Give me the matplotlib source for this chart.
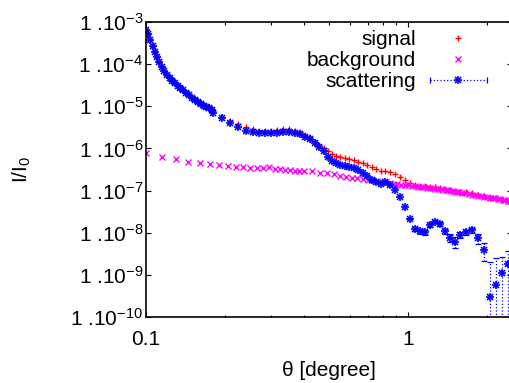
import numpy as np
import matplotlib
matplotlib.use("Agg")
import matplotlib.pyplot as plt
from matplotlib.ticker import FixedLocator, FixedFormatter, LogLocator, NullFormatter

plt.rcParams["font.family"] = ["Liberation Sans", "DejaVu Sans"]
plt.rcParams["mathtext.fontset"] = "custom"
plt.rcParams["mathtext.rm"] = "Liberation Sans"
plt.rcParams["mathtext.it"] = "Liberation Sans"
plt.rcParams["mathtext.default"] = "regular"

# signal and scattering share the same angles (degree)
theta = [
    0.1000, 0.1020, 0.1040, 0.1060, 0.1080, 0.1100, 0.1125, 0.1150, 0.1175,
    0.1200, 0.1230, 0.1260, 0.1290, 0.1320, 0.1350, 0.1380, 0.1420, 0.1460,
    0.1500, 0.1540, 0.1580, 0.1620, 0.1660, 0.1700, 0.1740, 0.1780, 0.1805,
    0.1945, 0.2092, 0.2250, 0.2408, 0.2554, 0.2706, 0.2845, 0.2999, 0.3162,
    0.3334, 0.3514, 0.3689, 0.3871, 0.4045, 0.4227, 0.4396, 0.4573, 0.4758,
    0.4950, 0.5128, 0.5311, 0.5501, 0.5723, 0.5954, 0.6194, 0.6443, 0.6705,
    0.6976, 0.7257, 0.7550, 0.7853, 0.8170, 0.8537, 0.8920, 0.9322, 0.9739,
    1.0176, 1.0634, 1.1111, 1.1610, 1.2134, 1.2679, 1.3253, 1.3845, 1.4468,
    1.5118, 1.5797, 1.6651, 1.7555, 1.8505, 1.9507, 2.0559, 2.1677, 2.2850,
    2.4083,
]

signal = [
    6.47e-4, 5.08e-4, 3.73e-4, 2.65e-4, 1.96e-4, 1.51e-4, 1.145e-4, 8.58e-5, 6.76e-5,
    5.67e-5, 4.74e-5, 4.09e-5, 3.54e-5, 3.08e-5, 2.74e-5, 2.46e-5, 2.14e-5, 1.87e-5,
    1.66e-5, 1.49e-5, 1.34e-5, 1.20e-5, 1.09e-5, 1.03e-5, 9.63e-6, 8.45e-6, 7.55e-6,
    5.66e-6, 4.47e-6, 3.74e-6, 3.28e-6, 2.84e-6, 2.63e-6, 2.63e-6, 2.63e-6, 2.74e-6,
    2.84e-6, 2.84e-6, 2.66e-6, 2.45e-6, 2.14e-6, 1.82e-6, 1.46e-6, 1.24e-6, 1.02e-6,
    8.69e-7, 7.57e-7, 6.61e-7, 6.36e-7, 6.02e-7, 5.67e-7, 5.25e-7, 4.89e-7, 4.51e-7,
    4.04e-7, 3.72e-7, 3.34e-7, 2.96e-7, 2.96e-7, 2.76e-7, 2.50e-7, 2.10e-7, 1.75e-7,
    1.53e-7, 1.39e-7, 1.32e-7, 1.28e-7, 1.25e-7, 1.22e-7, 1.15e-7, 1.09e-7, 1.03e-7,
    9.76e-8, 9.50e-8, 9.09e-8, 8.90e-8, 8.06e-8, 7.43e-8, 6.84e-8, 6.55e-8, 6.13e-8,
    5.81e-8,
]

scattering = [
    6.46e-4, 5.07e-4, 3.72e-4, 2.64e-4, 1.95e-4, 1.50e-4, 1.14e-4, 8.53e-5, 6.71e-5,
    5.62e-5, 4.69e-5, 4.04e-5, 3.49e-5, 3.03e-5, 2.69e-5, 2.41e-5, 2.09e-5, 1.82e-5,
    1.61e-5, 1.44e-5, 1.29e-5, 1.15e-5, 1.04e-5, 9.80e-6, 9.17e-6, 7.98e-6, 7.05e-6,
    5.19e-6, 3.95e-6, 3.28e-6, 2.63e-6, 2.41e-6, 2.28e-6, 2.28e-6, 2.28e-6, 2.36e-6,
    2.45e-6, 2.45e-6, 2.28e-6, 2.16e-6, 1.90e-6, 1.65e-6, 1.32e-6, 1.11e-6, 8.93e-7,
    6.43e-7, 5.17e-7, 4.51e-7, 4.04e-7, 3.77e-7, 3.57e-7, 3.38e-7, 3.08e-7, 2.61e-7,
    2.16e-7, 1.83e-7, 1.60e-7, 1.47e-7, 1.57e-7, 1.39e-7, 1.03e-7, 7.04e-8, 4.07e-8,
    2.17e-8, 1.22e-8, 1.10e-8, 1.02e-8, 1.52e-8, 1.82e-8, 1.61e-8, 1.10e-8, 7.69e-9,
    6.01e-9, 8.82e-9, 1.04e-8, 1.16e-8, 7.48e-9, 3.89e-9, 2.98e-10, 5.74e-10, 1.12e-9,
    1.78e-9,
]

scattering_err = [0.0] * 63 + [
    1.0e-9, 1.5e-9, 1.5e-9, 1.5e-9, 1.5e-9, 1.5e-9, 1.5e-9, 1.5e-9, 1.5e-9,
    1.7e-9, 1.5e-9, 1.5e-9, 1.5e-9, 2.0e-9, 1.7e-9, 1.7e-9, 1.9e-9, 1.5e-9,
    2.0e-9,
]

bg_theta = [
    0.100, 0.115, 0.130, 0.145, 0.160, 0.175, 0.190, 0.205, 0.220, 0.235, 0.250,
    0.265, 0.280, 0.295, 0.310, 0.325, 0.340, 0.355, 0.370, 0.385, 0.400,
    0.43, 0.46, 0.49, 0.52, 0.55, 0.58, 0.61, 0.64, 0.67, 0.70, 0.73, 0.76,
    0.79, 0.82, 0.85, 0.88, 0.91, 0.94, 0.97, 1.00, 1.03, 1.06, 1.09, 1.12,
    1.15, 1.18, 1.21, 1.24, 1.27, 1.30, 1.33, 1.36, 1.39, 1.42, 1.45, 1.48,
    1.51, 1.54, 1.57, 1.60, 1.65, 1.70, 1.75, 1.80, 1.85, 1.90, 1.95, 2.00,
    2.05, 2.10, 2.15, 2.20, 2.25, 2.30, 2.35, 2.40, 2.45,
]

background = [
    7.66e-7, 6.39e-7, 5.52e-7, 4.87e-7, 4.58e-7, 4.27e-7, 4.04e-7, 3.83e-7, 3.72e-7,
    3.68e-7, 3.53e-7, 3.53e-7, 3.53e-7, 3.58e-7, 3.28e-7, 3.21e-7, 3.14e-7, 3.08e-7,
    2.99e-7, 2.94e-7, 2.91e-7,
    2.91e-7, 2.65e-7, 2.57e-7, 2.43e-7, 2.24e-7, 2.07e-7, 2.01e-7, 1.95e-7, 1.88e-7,
    1.83e-7, 1.78e-7, 1.70e-7, 1.63e-7, 1.57e-7, 1.50e-7, 1.46e-7, 1.42e-7, 1.39e-7,
    1.355e-7, 1.33e-7, 1.31e-7, 1.27e-7, 1.235e-7, 1.215e-7, 1.19e-7, 1.17e-7,
    1.15e-7, 1.125e-7, 1.107e-7, 1.089e-7, 1.071e-7, 1.048e-7, 1.031e-7, 1.009e-7,
    9.92e-8, 9.71e-8, 9.50e-8, 9.24e-8, 9.09e-8, 8.90e-8, 8.61e-8, 8.29e-8, 7.98e-8,
    7.76e-8, 7.43e-8, 7.27e-8, 7.11e-8, 6.92e-8, 6.77e-8, 6.66e-8, 6.52e-8, 6.38e-8,
    6.20e-8, 6.07e-8, 5.94e-8, 5.81e-8, 5.65e-8,
]

x_ticks = [0.1, 1.0]
x_labels = ["0.1", "1"]
y_ticks = [1e-10, 1e-9, 1e-8, 1e-7, 1e-6, 1e-5, 1e-4, 1e-3]
y_labels = ["1 .10$^{-10}$", "1 .10$^{-9}$", "1 .10$^{-8}$", "1 .10$^{-7}$",
            "1 .10$^{-6}$", "1 .10$^{-5}$", "1 .10$^{-4}$", "1 .10$^{-3}$"]

theta = np.array(theta)
scattering = np.array(scattering)
scattering_err = np.array(scattering_err)

fig = plt.figure(figsize=(5.10, 3.83), dpi=100)
ax = fig.add_axes([0.2863, 0.1723, 0.7167, 0.7702])
ax.set_xscale("log")
ax.set_yscale("log")


def star(x, y, **kw):
    # gnuplot point type 3: a "+" laid over an "x"
    ax.plot(x, y, linestyle="none", marker="+", color="#0000ff",
            markersize=6, markeredgewidth=1.2, **kw)
    ax.plot(x, y, linestyle="none", marker="x", color="#0000ff",
            markersize=4.5, markeredgewidth=1.2, **kw)


ax.plot(theta, signal, linestyle="none", marker="+", color="#ff0000",
        markersize=5, markeredgewidth=1.0)
ax.plot(bg_theta, background, linestyle="none", marker="x", color="#ff00ff",
        markersize=4, markeredgewidth=1.0)
has_err = scattering_err > 0
eb = ax.errorbar(theta[has_err], scattering[has_err], yerr=scattering_err[has_err],
                 fmt="none", ecolor="#0000ff", elinewidth=0.9, capsize=2.0,
                 capthick=0.9)
eb[2][0].set_linestyle(":")
star(theta, scattering)

ax.set_xlim(0.1, 2.48)
ax.set_ylim(1e-10, 1e-3)

ax.xaxis.set_major_locator(FixedLocator(x_ticks))
ax.xaxis.set_major_formatter(FixedFormatter(x_labels))
ax.xaxis.set_minor_locator(LogLocator(base=10, subs=[2, 3, 4, 5, 6, 7, 8, 9]))
ax.xaxis.set_minor_formatter(NullFormatter())
ax.yaxis.set_major_locator(FixedLocator(y_ticks))
ax.yaxis.set_major_formatter(FixedFormatter(y_labels))
ax.yaxis.set_minor_locator(LogLocator(base=10, subs=[2, 5, 8]))
ax.yaxis.set_minor_formatter(NullFormatter())

ax.tick_params(which="both", direction="in", top=True, right=True, width=0.8,
               labelsize=15)
ax.tick_params(which="major", length=3.6)
ax.tick_params(which="minor", length=1.8)
ax.tick_params(axis="x", pad=9)
ax.tick_params(axis="y", pad=2)
for s in ax.spines.values():
    s.set_linewidth(1.2)

ax.set_xlabel("θ [degree]", fontsize=15)
ax.set_ylabel("I/I$_0$", fontsize=15)
ax.xaxis.set_label_coords(0.5, -0.15)
ax.yaxis.set_label_coords(-0.309, 0.5)

# key, drawn like gnuplot's
names = ["signal", "background", "scattering"]
base_y = [0.922, 0.851, 0.780]
mark_y = [0.9458, 0.8746, 0.8034]
for name, by in zip(names, base_y):
    ax.text(0.7387, by, name, transform=ax.transAxes, ha="right", va="baseline",
            fontsize=15)
ax.plot([0.8545], [mark_y[0]], transform=ax.transAxes, marker="+", color="#ff0000",
        markersize=5, markeredgewidth=1.0, clip_on=False)
ax.plot([0.8545], [mark_y[1]], transform=ax.transAxes, marker="x", color="#ff00ff",
        markersize=4, markeredgewidth=1.0, clip_on=False)
ax.plot([0.777, 0.932], [mark_y[2], mark_y[2]], transform=ax.transAxes,
        color="#0000ff", linestyle=":", linewidth=0.9)
ax.plot([0.777, 0.932], [mark_y[2], mark_y[2]], transform=ax.transAxes,
        color="#0000ff", linestyle="none", marker="|", markersize=4,
        markeredgewidth=0.9)
star([0.8545], [mark_y[2]], transform=ax.transAxes)

fig.savefig("out.png", dpi=100)
